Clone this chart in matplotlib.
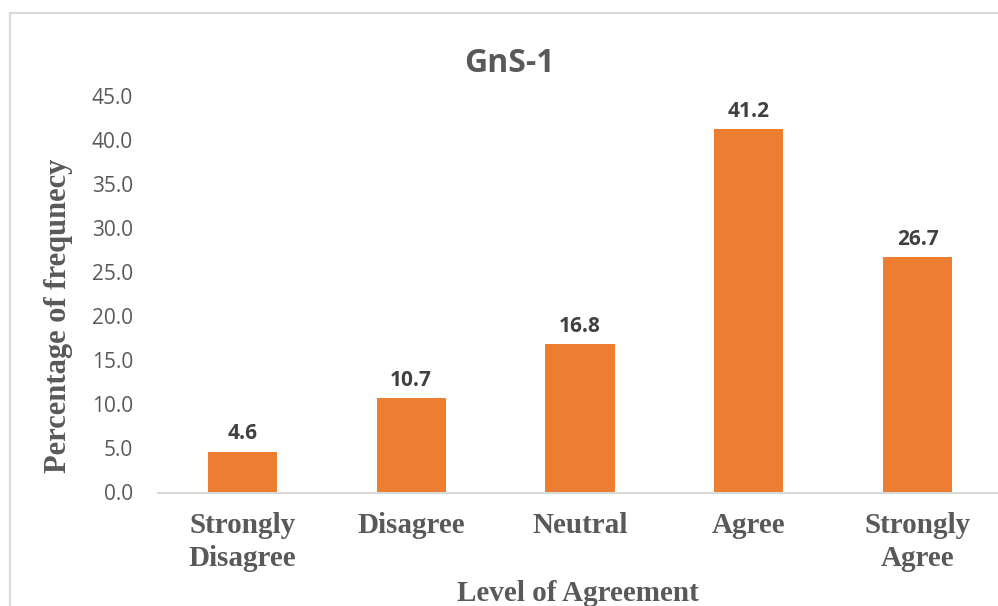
import matplotlib.pyplot as plt
from matplotlib.lines import Line2D

categories = ['Strongly\nDisagree', 'Disagree', 'Neutral', 'Agree', 'Strongly\nAgree']
percent = [4.6, 10.7, 16.8, 41.2, 26.7]
yticks = [0, 5, 10, 15, 20, 25, 30, 35, 40, 45]

W, H = 998, 606
fig = plt.figure(figsize=(W / 100, H / 100), dpi=100)
ax = fig.add_axes([158 / W, (H - 492.5) / H, (1002 - 158) / W, (492.5 - 96) / H])

x = list(range(len(categories)))
bars = ax.bar(x, percent, width=0.41, color='#ED7D31', zorder=2)

for xi, v in zip(x, percent):
    ax.annotate(f'{v:.1f}', (xi, v), xytext=(0, 9), textcoords='offset points',
                ha='center', va='baseline', fontsize=15, fontweight='bold',
                family='Open Sans', color='#404040')

ax.set_xlim(-0.5, len(categories) - 0.5)
ax.set_ylim(0, 45)
ax.set_yticks(yticks)
ax.set_yticklabels([f'{t:.1f}' for t in yticks], family='Open Sans', fontsize=15, color='#595959')
ax.set_xticks(x)
ax.set_xticklabels(categories, family='Liberation Serif', fontsize=21, fontweight='bold',
                   color='#595959', linespacing=1.3)
ax.tick_params(axis='y', length=0, pad=18)
ax.tick_params(axis='x', length=0, pad=14)

for side in ['top', 'right', 'left']:
    ax.spines[side].set_visible(False)
ax.spines['bottom'].set_color('#D9D9D9')
ax.spines['bottom'].set_linewidth(1.5)

# chart border (left and top edges)
fig.add_artist(Line2D([10 / W, 10 / W], [0, 1 - 13 / H], color='#D9D9D9', lw=1.5))
fig.add_artist(Line2D([10 / W, 1], [1 - 13 / H, 1 - 13 / H], color='#D9D9D9', lw=1.5))

fig.text(509 / W, 1 - 72 / H, 'GnS-1', ha='center', va='baseline', family='Open Sans',
         fontsize=23, fontweight='bold', color='#595959')
fig.text(59 / W, 1 - 316 / H, 'Percentage of frequnecy', ha='center', va='center',
         rotation=90, family='Liberation Serif', fontsize=22, fontweight='bold', color='#595959')
fig.text(578 / W, 1 - 601 / H, 'Level of Agreement', ha='center', va='baseline',
         family='Liberation Serif', fontsize=21, fontweight='bold', color='#595959')

fig.savefig('out.png', dpi=100)
